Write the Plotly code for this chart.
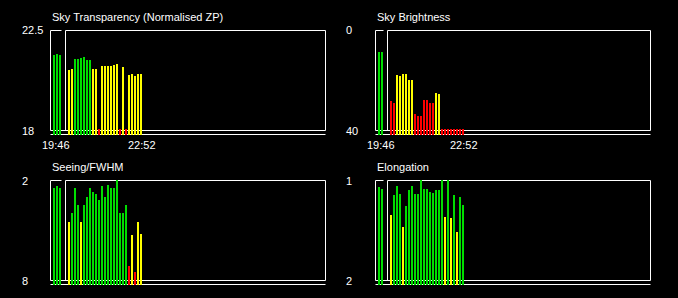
import plotly.graph_objects as go

W, H = 678, 298

# ---- data (one value per sample; None = no sample) ----
time_labels = ["19:46", "22:52"]

transparency = [21.40, 21.44, 21.40, None, None, 20.72, 20.77, 21.22, 21.22, 21.26,
                21.31, 21.17, 21.17, 20.77, 20.77, 18.07, 20.90, 20.90, 20.90, 20.90,
                20.95, 20.99, 18.07, 20.86, 18.07, 20.50, 20.54, 20.45, 20.54, 20.54]
transparency_q = "GGG--YYGGGGGGYYRYYYYYYRYRYYYYY"

brightness = [8.6, 8.6, None, None, 28.2, 29.0, 17.8, 18.2, 17.4, 17.4,
              19.8, 19.8, 33.4, 34.2, 34.2, 27.8, 27.8, 29.0, 29.0, 25.0,
              25.4, 39.5, 39.5, 39.5, 39.5, 39.5, 39.5, 39.5, 39.5]
brightness_q = "GG--RRYYYYYYRRRRRRRYYRRRRRRRR"

seeing = [2.45, 2.33, 2.45, None, None, 4.49, 3.95, 2.45, 3.47, 4.49,
          3.47, 2.99, 2.45, 2.69, 2.81, 3.17, 2.33, 2.99, 2.27, 2.45,
          2.45, 1.97, 3.95, 3.95, 3.47, 7.13, 5.27, 7.49, 4.49, 5.21]
seeing_q = "GGG--YGGGYGGGGGGGGGGGGGGGRYRYY"

elongation = [1.065, 1.085, None, None, 1.345, 1.145, 1.055, 1.135, 1.465, 1.255,
              1.095, 1.055, 1.135, 1.135, 0.995, 1.085, 1.085, 1.115, 1.125, 1.095,
              1.095, 0.995, 1.365, 0.995, 1.375, 1.145, 1.515, 1.165, 1.245]
elongation_q = "GG--YGGGYGGGGGGGGGGGGGYGYGYGG"

QCOL = {"G": "#00dd00", "Y": "#ffff00", "R": "#ff0000", "-": "rgba(0,0,0,0)"}

panels = [
    dict(title="Sky Transparency (Normalised ZP)", vals=transparency, q=transparency_q,
         top=22.5, bottom=18, toplab="22.5", botlab="18", L=50, T=30, times=True, labx=21.5),
    dict(title="Sky Brightness", vals=brightness, q=brightness_q,
         top=0, bottom=40, toplab="0", botlab="40", L=375, T=30, times=True, labx=346),
    dict(title="Seeing/FWHM", vals=seeing, q=seeing_q,
         top=2, bottom=8, toplab="2", botlab="8", L=50, T=180, times=False, labx=21.5),
    dict(title="Elongation", vals=elongation, q=elongation_q,
         top=1, bottom=2, toplab="1", botlab="2", L=375, T=180, times=False, labx=346),
]

BOX_W, BOX_H, SLOT = 275, 100, 3
FONT = dict(family="Liberation Sans, Arial, sans-serif", size=11, color="#ffffff")


def px_x(p):
    return p / W


def px_y(p):
    return 1 - p / H


fig = go.Figure()
shapes, annotations = [], []
layout = {}

for i, p in enumerate(panels, start=1):
    xa = "x" if i == 1 else f"x{i}"
    ya = "y" if i == 1 else f"y{i}"
    L, T = p["L"], p["T"]
    R, B = L + BOX_W, T + BOX_H
    c0 = L + 4  # pixel of first sample's bar centre

    # axes
    layout["xaxis" if i == 1 else f"xaxis{i}"] = dict(
        domain=[px_x(L - 1), px_x(R + 2)],
        range=[(L - 1 - c0) / SLOT, (R + 2 - c0) / SLOT],
        visible=False, fixedrange=True, anchor=ya)
    s = (p["bottom"] - p["top"]) / BOX_H
    base = p["bottom"] + 4.5 * s
    layout["yaxis" if i == 1 else f"yaxis{i}"] = dict(
        domain=[px_y(B + 5), px_y(T - 2)],
        range=[base, p["top"] - 2.5 * s],
        visible=False, fixedrange=True, anchor=xa)

    vals = p["vals"]
    n = len(vals)
    fig.add_trace(go.Bar(
        x=list(range(n)),
        y=[None if v is None else v - base for v in vals],
        base=base, width=2 / 3,
        marker=dict(color=[QCOL[c] for c in p["q"]], line=dict(width=0)),
        xaxis=xa, yaxis=ya, showlegend=False, hoverinfo="skip"))

    # gap in the sequence
    g0 = next(k for k, v in enumerate(vals) if v is None)
    g1 = next(k for k in range(g0, n) if vals[k] is not None)
    gap_start = c0 + SLOT * (g0 - 0.5)
    vline = c0 + SLOT * g1 - 1 - 3 + 0.5

    line = dict(color="#ffffff", width=1)

    def seg(x0, y0, x1, y1):
        shapes.append(dict(type="line", xref="paper", yref="paper", layer="below",
                           x0=px_x(x0), y0=px_y(y0), x1=px_x(x1), y1=px_y(y1), line=line))

    seg(L + 0.5, T + 0.5, gap_start, T + 0.5)
    seg(vline, T + 0.5, R + 0.5, T + 0.5)
    seg(L + 0.5, T + 0.5, L + 0.5, B + 0.5)
    seg(vline, T + 0.5, vline, B + 0.5)
    seg(R + 0.5, T + 0.5, R + 0.5, B + 0.5)
    seg(L + 0.5, B + 0.5, R + 0.5, B + 0.5)
    seg(L + 0.5, B + 4.5, R + 0.5, B + 4.5)

    # title
    annotations.append(dict(text=p["title"], xref="paper", yref="paper",
                            x=px_x(L + 1.5), y=px_y(T - 13.2), xanchor="left", yanchor="middle",
                            showarrow=False, font=FONT, borderpad=0, borderwidth=0))
    # y labels
    for val, lab in ((p["top"], p["toplab"]), (p["bottom"], p["botlab"])):
        annotations.append(dict(text=lab, xref="paper", yref=ya, x=px_x(p["labx"]), y=val,
                                xanchor="left", yanchor="middle", showarrow=False,
                                font=FONT, borderpad=0, borderwidth=0))
    # time labels
    if p["times"]:
        last = max(k for k, v in enumerate(vals) if v is not None)
        for xv, lab, sh in ((0, time_labels[0], 2), (last, time_labels[1], 0.5)):
            annotations.append(dict(text=lab, xref=xa, yref="paper", x=xv, y=px_y(B + 15),
                                    xshift=sh, xanchor="center", yanchor="middle",
                                    showarrow=False, font=FONT, borderpad=0, borderwidth=0))

fig.update_layout(
    width=W, height=H, margin=dict(l=0, r=0, t=0, b=0),
    paper_bgcolor="#000000", plot_bgcolor="rgba(0,0,0,0)",
    bargap=0, shapes=shapes, annotations=annotations, **layout)

fig.write_html("out.html", config={"displayModeBar": False})
